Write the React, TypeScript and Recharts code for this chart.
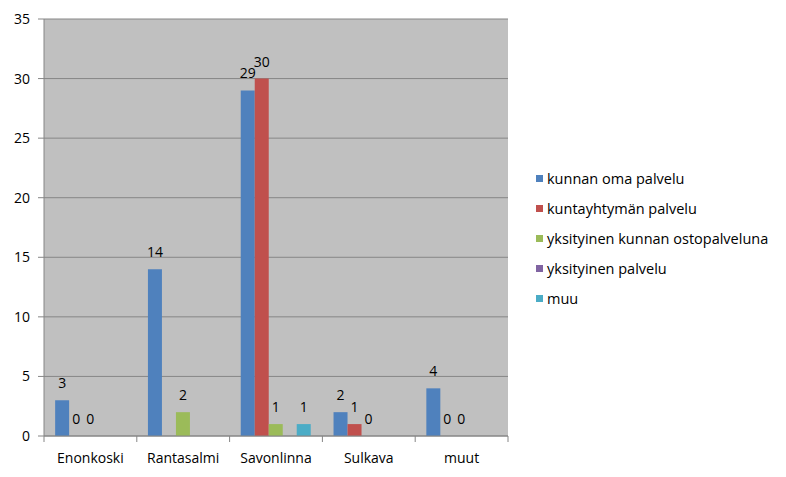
import { BarChart, Bar, XAxis, YAxis, CartesianGrid, LabelList } from 'recharts';

const categories = ['Enonkoski', 'Rantasalmi', 'Savonlinna', 'Sulkava', 'muut'];
const kunnanOma = [3, 14, 29, 2, 4];
const kuntayhtyma = [0, null, 30, 1, 0];
const yksityinenOsto = [0, 2, 1, 0, 0];
const yksityinen = [null, null, null, null, null];
const muu = [null, null, 1, null, null];
const yTicks = [0, 5, 10, 15, 20, 25, 30, 35];

const series = [
  { key: 'a', name: 'kunnan oma palvelu', color: '#4f81bd' },
  { key: 'b', name: 'kuntayhtymän palvelu', color: '#c0504d' },
  { key: 'c', name: 'yksityinen kunnan ostopalveluna', color: '#9bbb59' },
  { key: 'd', name: 'yksityinen palvelu', color: '#8064a2' },
  { key: 'e', name: 'muu', color: '#4bacc6' },
];

const data = categories.map((name, i) => ({
  name,
  a: kunnanOma[i],
  b: kuntayhtyma[i],
  c: yksityinenOsto[i],
  d: yksityinen[i],
  e: muu[i],
}));

const FONT = '"Open Sans", sans-serif';
const FS = 14;

const CategoryTick = (props: any) => {
  const { x, y, payload, index, visibleTicksCount } = props;
  const half = payload?.offset ?? 46.4;
  return (
    <g>
      <line x1={x - half} x2={x - half} y1={y - 8} y2={y - 2} stroke="#868686" />
      {index === visibleTicksCount - 1 && (
        <line x1={x + half} x2={x + half} y1={y - 8} y2={y - 2} stroke="#868686" />
      )}
      <text x={x} y={y + 19} textAnchor="middle" fontSize={FS} fill="#000" fontFamily={FONT}>
        {payload.value}
      </text>
    </g>
  );
};

// labels above bars, also for zero-height bars
const TopLabel = (props: any) => {
  const { x, y, width, value } = props;
  if (value === null || value === undefined) return null;
  return (
    <text x={x + width / 2} y={y - 12} textAnchor="middle" fontSize={FS} fill="#000" fontFamily={FONT}>
      {value}
    </text>
  );
};

export default function App() {
  return (
    <div style={{ position: 'absolute', left: 0, top: 0, width: 786, height: 477, background: '#fff' }}>
      <BarChart
        width={786}
        height={477}
        data={data}
        margin={{ top: 19, right: 278, left: 0, bottom: 11 }}
        barCategoryGap="12%"
        barGap={0}
      >
        <CartesianGrid stroke="#868686" vertical={false} fill="#c0c0c0" />
        <XAxis
          dataKey="name"
          stroke="#868686"
          tickLine={false}
          height={30}
          tick={<CategoryTick />}
          interval={0}
        />
        <YAxis
          width={44}
          domain={[0, 35]}
          ticks={yTicks}
          stroke="#868686"
          tickSize={6}
          tickMargin={8}
          tick={{ fontSize: FS, fill: '#000', fontFamily: FONT }}
        />
        {series.map((s) => (
          <Bar
            key={s.key}
            dataKey={s.key}
            name={s.name}
            fill={s.color}
            minPointSize={0.01}
            isAnimationActive={false}
          >
            <LabelList dataKey={s.key} content={<TopLabel />} />
          </Bar>
        ))}
      </BarChart>
      <div style={{ position: 'absolute', left: 536, top: 163, fontFamily: FONT, fontSize: FS + 0.5, color: '#000' }}>
        {series.map((s) => (
          <div key={s.key} style={{ display: 'flex', alignItems: 'center', height: 30, whiteSpace: 'nowrap' }}>
            <span style={{ width: 7, height: 7, background: s.color, marginRight: 4 }} />
            <span>{s.name}</span>
          </div>
        ))}
      </div>
    </div>
  );
}
